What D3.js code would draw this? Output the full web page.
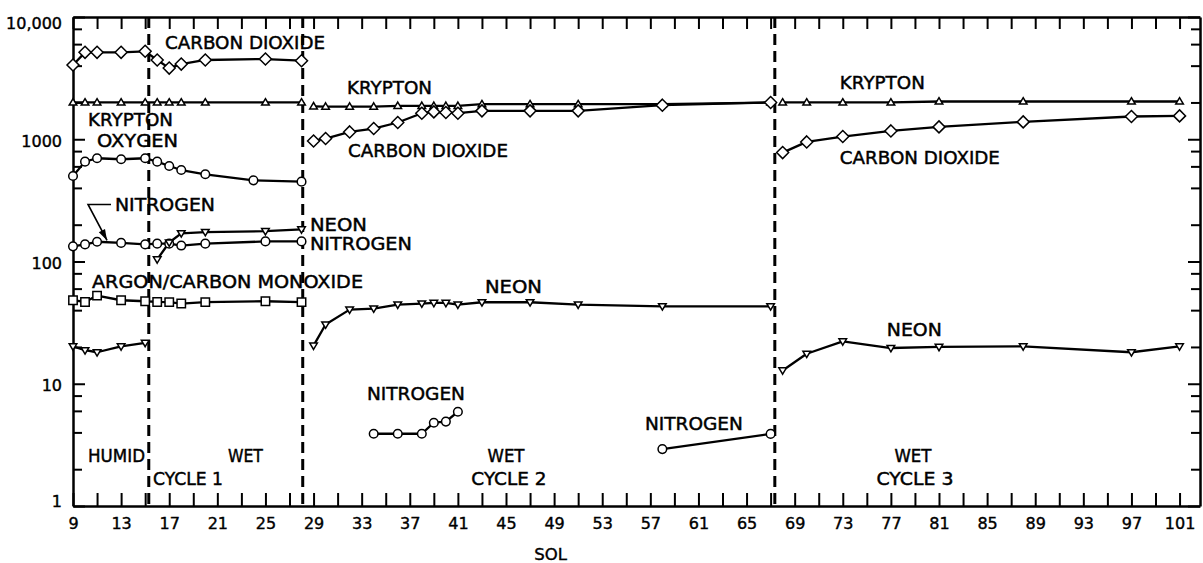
<!DOCTYPE html>
<html><head><meta charset="utf-8">
<script src="https://cdn.jsdelivr.net/npm/d3@7"></script>
<style>body{margin:0;background:#fff}svg{display:block}</style>
</head><body>
<svg id="c" width="1203" height="563"></svg>
<script>
// ---------------- DATA ----------------
// Cycle 1 (humid sols 9-15, wet cycle 1 sols 16-28)
const co2Sols1 = [9,10,11,13,15,16,17,18,20,25,28];
const co2Vals1 = [4050,5140,5140,5140,5240,4450,3820,4120,4450,4530,4390];
const kryptonSols1 = [9,10,11,13,15,16,17,18,20,25,28];
const kryptonVals1 = [2000,2000,2000,2000,2000,2000,2000,2000,2000,2000,2000];
const oxygenSols1 = [9,10,11,13,15,16,17,18,20,24,28];
const oxygenVals1 = [500,656,699,686,699,656,604,560,517,461,450];
const nitrogenSols1 = [9,10,11,13,15,16,17,18,20,25,28];
const nitrogenVals1 = [133,138,145,142,138,140,140,135,140,146,146];
const neonHumidSols = [9,10,11,13,15];
const neonHumidVals = [20.2,18.8,18.1,20.2,21.6];
const neonWetSols1 = [16,17,18,20,25,28];
const neonWetVals1 = [104,143,170,174,177,183];
const argonSols1 = [9,10,11,13,15,16,17,18,20,25,28];
const argonVals1 = [48.2,46.7,52.6,48.2,47.3,46.7,46.5,45.3,46.5,47.3,46.5];
// Wet cycle 2
const cycle2Sols = [29,30,32,34,36,38,39,40,41,43,47,51,58,67];
const kryptonVals2 = [1860,1850,1850,1850,1875,1875,1875,1875,1875,1935,1935,1935,1935,2000];
const co2Vals2 = [968,1013,1148,1224,1371,1633,1674,1655,1633,1707,1707,1707,1900,2000];
const neonVals2 = [20.5,30.5,40.4,41.2,44.4,45.3,45.8,45.8,44.4,46.4,46.4,44.4,43.0,43.0];
const nitrogenSols2a = [34,36,38,39,40,41];
const nitrogenVals2a = [3.9,3.9,3.9,4.8,4.9,5.9];
const nitrogenSols2b = [58,67];
const nitrogenVals2b = [2.92,3.89];
// Wet cycle 3
const cycle3Sols = [68,70,73,77,81,88,97,101];
const kryptonVals3 = [2000,2000,2000,2000,2036,2036,2036,2036];
const co2Vals3 = [778,951,1052,1170,1262,1387,1535,1553];
const neonVals3 = [12.85,17.6,22.2,19.6,20.0,20.2,18.1,20.2];
// Cycle boundaries (sol)
const dividerSols = [15.3, 28.1, 67.35];
// Axis ticks
const xTickSols = d3.range(9, 102, 2);
const xLabelSols = d3.range(9, 102, 4);
const yMajorTicks = [1,10,100,1000,10000];
const yMinorTicks = [2,4,6,8,20,40,60,80,200,400,600,800,2000,4000,6000,8000];
const yTickLabels = ["1","10","100","1000","10,000"];
// Annotations
const labelTexts = ["CARBON DIOXIDE","KRYPTON","OXYGEN","NITROGEN","NEON","NITROGEN","ARGON/CARBON MONOXIDE",
  "KRYPTON","CARBON DIOXIDE","NEON","NITROGEN","NITROGEN","KRYPTON","CARBON DIOXIDE","NEON",
  "HUMID","CYCLE 1","WET","WET","CYCLE 2","WET","CYCLE 3"];
const labelSols = [16.65,10.25,11.0,12.49,28.7,28.7,10.58,31.78,31.86,43.25,33.44,56.55,72.76,72.76,76.66,
  10.25,15.65,21.88,45.0,45.24,78.83,79.0];
const labelVals = [5470,1279,859,257,176,125,61.2,2338,712,55.7,7.39,4.2,2570,624,24.7,
  2.3,1.49,2.3,2.3,1.49,2.3,1.49];
const labelMiddle = [0,0,0,0,0,0,0,0,0,0,0,0,0,0,0,0,0,0,1,1,1,1];
const labelWidths = [160,85,81,100,57,102,271,85,160,57,98,98,85,160,55,57,70,35,37,75,37,77];
// Nitrogen arrow (sol, value): start, corner, tip
const arrowSols = [12.16,10.25,11.83];
const arrowVals = [293,293,148.6];

// ---------------- CHART ----------------
const x = d3.scaleLinear().domain([9,102.7]).range([73,1200]);
const y = d3.scaleLog().domain([1,10000]).range([506,17]);
const svg = d3.select("#c");
const FONT = "'DejaVu Sans', sans-serif";

// dashed dividers
svg.append("g").selectAll("line").data(dividerSols).join("line")
  .attr("x1",d=>x(d)).attr("x2",d=>x(d)).attr("y1",y(10000)).attr("y2",y(1))
  .attr("stroke","#000").attr("stroke-width",3).attr("stroke-dasharray","11,6");

// axes
function styleAxis(g){
  g.select(".domain").attr("stroke","#000").attr("stroke-width",2.5);
  g.selectAll(".tick line").attr("stroke","#000").attr("stroke-width",2);
  g.selectAll("text").attr("font-family",FONT).attr("font-size",16).attr("fill","#000")
    .attr("stroke","#000").attr("stroke-width",0.4);
}
const gBottom = svg.append("g").attr("transform",`translate(0,${y(1)})`)
  .call(d3.axisBottom(x).tickValues(xTickSols).tickSize(-13).tickSizeOuter(0).tickPadding(12)
    .tickFormat(d => xLabelSols.includes(d) ? d : ""));
styleAxis(gBottom);
const gTop = svg.append("g").attr("transform",`translate(0,${y(10000)})`)
  .call(d3.axisTop(x).tickValues(xTickSols).tickSize(-12).tickSizeOuter(0).tickFormat(""));
styleAxis(gTop);
const yTicks = yMajorTicks.concat(yMinorTicks);
const gLeft = svg.append("g").attr("transform",`translate(${x(9)},0)`)
  .call(d3.axisLeft(y).tickValues(yTicks).tickSize(-12).tickSizeOuter(0).tickPadding(11)
    .tickFormat(d => { const i = yMajorTicks.indexOf(d); return i>=0 ? yTickLabels[i] : ""; }));
styleAxis(gLeft);
gLeft.selectAll(".tick").filter(d=>!yMajorTicks.includes(d)).select("line").attr("x2",9);
gLeft.selectAll(".tick text").attr("dy",d => d===10000 ? "0.7em" : d===1 ? "0.0em" : "0.45em");
const gRight = svg.append("g").attr("transform",`translate(${x(102.7)},0)`)
  .call(d3.axisRight(y).tickValues(yTicks).tickSize(-12).tickSizeOuter(0).tickFormat(""));
styleAxis(gRight);
gRight.selectAll(".tick").filter(d=>!yMajorTicks.includes(d)).select("line").attr("x2",-9);

// series
const zip = (s,v) => s.map((d,i)=>[d,v[i]]);
const series = [
  {pts: zip(co2Sols1,co2Vals1), m:"diamond"},
  {pts: zip(kryptonSols1,kryptonVals1), m:"triUp"},
  {pts: zip(oxygenSols1,oxygenVals1), m:"circle"},
  {pts: zip(nitrogenSols1,nitrogenVals1), m:"circle"},
  {pts: zip(neonHumidSols,neonHumidVals), m:"triDown"},
  {pts: zip(neonWetSols1,neonWetVals1), m:"triDown"},
  {pts: zip(argonSols1,argonVals1), m:"square"},
  {pts: zip(cycle2Sols,kryptonVals2), m:"triUp"},
  {pts: zip(cycle2Sols,co2Vals2), m:"diamond"},
  {pts: zip(cycle2Sols,neonVals2), m:"triDown"},
  {pts: zip(nitrogenSols2a,nitrogenVals2a), m:"circle"},
  {pts: zip(nitrogenSols2b,nitrogenVals2b), m:"circle"},
  {pts: zip(cycle3Sols,kryptonVals3), m:"triUp"},
  {pts: zip(cycle3Sols,co2Vals3), m:"diamond"},
  {pts: zip(cycle3Sols,neonVals3), m:"triDown"},
];
const line = d3.line().x(d=>x(d[0])).y(d=>y(d[1]));
const gl = svg.append("g");
series.forEach(s => gl.append("path").attr("d",line(s.pts)).attr("fill","none")
  .attr("stroke","#000").attr("stroke-width",2.3).attr("stroke-linejoin","round"));
const shapes = {
  diamond:"M0,-6L6,0L0,6L-6,0Z",
  triUp:"M0,-3.8L3.8,2.6L-3.8,2.6Z",
  triDown:"M0,3.8L3.8,-2.6L-3.8,-2.6Z",
  square:"M-4.2,-4.2H4.2V4.2H-4.2Z"
};
const gm = svg.append("g");
series.forEach(s => {
  s.pts.forEach(p => {
    if (s.m==="circle") {
      gm.append("circle").attr("cx",x(p[0])).attr("cy",y(p[1])).attr("r",4.3)
        .attr("fill","#fff").attr("stroke","#000").attr("stroke-width",1.5);
    } else {
      gm.append("path").attr("d",shapes[s.m]).attr("transform",`translate(${x(p[0])},${y(p[1])})`)
        .attr("fill","#fff").attr("stroke","#000").attr("stroke-width",1.5);
    }
  });
});

// nitrogen arrow
const ap = zip(arrowSols,arrowVals).map(d=>[x(d[0]),y(d[1])]);
svg.append("path").attr("d",d3.line()(ap)).attr("fill","none").attr("stroke","#000").attr("stroke-width",1.6);
{
  const [a,b] = [ap[1],ap[2]];
  const ang = Math.atan2(b[1]-a[1], b[0]-a[0]);
  const L=11, Wd=3.5;
  const bx=b[0]-L*Math.cos(ang), by=b[1]-L*Math.sin(ang);
  const px=-Math.sin(ang)*Wd, py=Math.cos(ang)*Wd;
  svg.append("path").attr("d",`M${b[0]},${b[1]}L${bx+px},${by+py}L${bx-px},${by-py}Z`).attr("fill","#000");
}

// annotations
svg.append("g").selectAll("text").data(labelTexts).join("text")
  .attr("x",(d,i)=>x(labelSols[i])).attr("y",(d,i)=>y(labelVals[i]))
  .attr("text-anchor",(d,i)=>labelMiddle[i]?"middle":"start")
  .attr("textLength",(d,i)=>labelWidths[i]).attr("lengthAdjust","spacingAndGlyphs")
  .attr("font-family",FONT).attr("font-size",17.5).attr("fill","#000")
  .attr("stroke","#000").attr("stroke-width",0.45)
  .text(d=>d);

// x title
svg.append("text").attr("x",x(48.7)).attr("y",560).attr("text-anchor","middle")
  .attr("font-family",FONT).attr("font-size",16.5).attr("fill","#000")
  .attr("stroke","#000").attr("stroke-width",0.4).text("SOL");
</script>
</body></html>
